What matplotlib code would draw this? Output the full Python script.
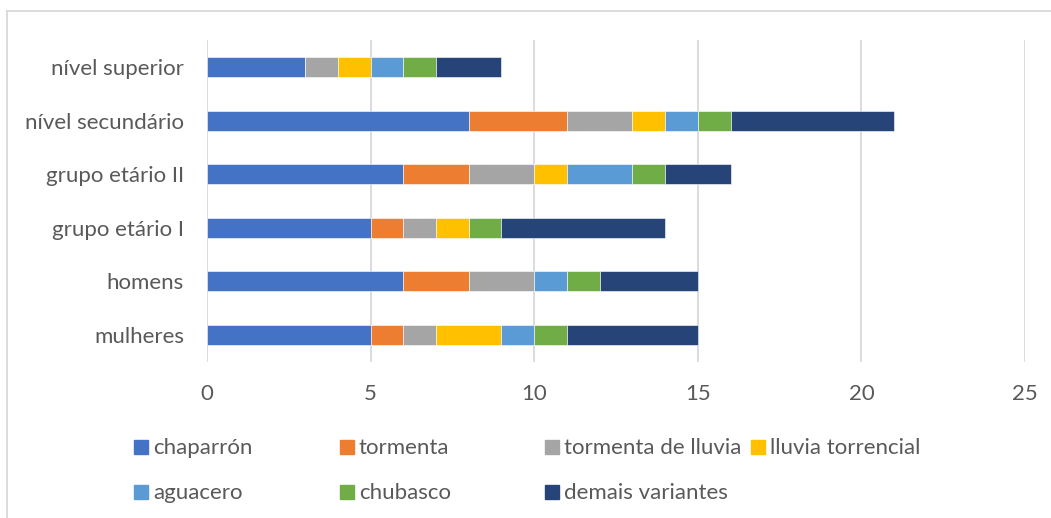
import matplotlib.pyplot as plt
from matplotlib.lines import Line2D
from matplotlib.patches import Rectangle
import numpy as np

categories = ["mulheres", "homens", "grupo etário I", "grupo etário II",
              "nível secundário", "nível superior"]
series = ["chaparrón", "tormenta", "tormenta de lluvia", "lluvia torrencial",
          "aguacero", "chubasco", "demais variantes"]
values = {
    "chaparrón":          [5, 6, 5, 6, 8, 3],
    "tormenta":           [1, 2, 1, 2, 3, 0],
    "tormenta de lluvia": [1, 2, 1, 2, 2, 1],
    "lluvia torrencial":  [2, 0, 1, 1, 1, 1],
    "aguacero":           [1, 1, 0, 2, 1, 1],
    "chubasco":           [1, 1, 1, 1, 1, 1],
    "demais variantes":   [4, 3, 5, 2, 5, 2],
}
colors = ["#4472C4", "#ED7D31", "#A5A5A5", "#FFC000", "#5B9BD5", "#70AD47", "#264478"]
x_ticks = [0, 5, 10, 15, 20, 25]

plt.rcParams['font.family'] = ['Lato', 'DejaVu Sans']
text_color = "#595959"
fs = 16

fig = plt.figure(figsize=(10.51, 5.18), dpi=100)
ax = fig.add_axes([207 / 1051, 1 - 361.8 / 518, 818 / 1051, 321.6 / 518])

y = np.arange(len(categories))
left = np.zeros(len(categories))
for name, c in zip(series, colors):
    v = np.array(values[name], dtype=float)
    ax.barh(y, v, left=left, height=0.37, color=c, edgecolor="white",
            linewidth=0.4, zorder=3)
    left += v

ax.set_xlim(0, 25)
ax.set_ylim(-0.5, len(categories) - 0.5)
ax.set_xticks(x_ticks)
ax.set_yticks(y)
ax.set_yticklabels(categories)
ax.tick_params(axis="both", length=0, labelsize=fs, colors=text_color)
ax.tick_params(axis="y", pad=16.5)
ax.tick_params(axis="x", pad=16)
ax.grid(axis="x", color="#D9D9D9", linewidth=1.3, zorder=0)
for s in ax.spines.values():
    s.set_visible(False)

# legend, laid out like the original in two rows of four columns
for i, (name, c) in enumerate(zip(series, colors)):
    col, row = i % 4, i // 4
    x0 = 134 + 205.7 * col
    y0 = 447 + 45 * row
    fig.patches.append(Rectangle((x0 / 1051, 1 - (y0 + 7) / 518), 14 / 1051, 14 / 518,
                                 transform=fig.transFigure, color=c))
    fig.text((x0 + 19) / 1051, 1 - (y0 + 1) / 518, name, fontsize=fs,
             color=text_color, va="center", ha="left")

# chart frame (left and top edges)
fig.add_artist(Line2D([7 / 1051, 7 / 1051], [0, 1 - 11 / 518],
                      transform=fig.transFigure, color="#D9D9D9", linewidth=1.3))
fig.add_artist(Line2D([7 / 1051, 1], [1 - 11 / 518, 1 - 11 / 518],
                      transform=fig.transFigure, color="#D9D9D9", linewidth=1.3))

fig.savefig("out.png", dpi=100)
